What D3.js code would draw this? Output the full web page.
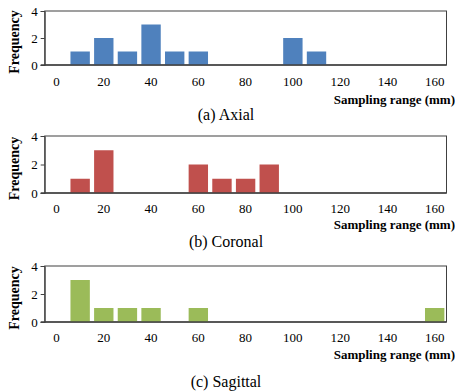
<!DOCTYPE html>
<html>
<head>
<meta charset="utf-8">
<script src="https://cdn.jsdelivr.net/npm/d3@7"></script>
<style>
  body { margin: 0; background: #fff; }
  svg text { font-family: "Liberation Serif", "Times New Roman", serif; fill: #000; }
</style>
</head>
<body>
<script>
// categories (sampling range, mm)
var categories = [0, 10, 20, 30, 40, 50, 60, 70, 80, 90, 100, 110, 120, 130, 140, 150, 160];
var yTicks = [0, 2, 4];
var axialFreq    = [0, 1, 2, 1, 3, 1, 1, 0, 0, 0, 2, 1, 0, 0, 0, 0, 0];
var coronalFreq  = [0, 1, 3, 0, 0, 0, 2, 1, 1, 2, 0, 0, 0, 0, 0, 0, 0];
var sagittalFreq = [0, 3, 1, 1, 1, 0, 1, 0, 0, 0, 0, 0, 0, 0, 0, 0, 1];
var captions = ["(a) Axial", "(b) Coronal", "(c) Sagittal"];
var xTitle = "Sampling range (mm)";
var yTitle = "Frequency";

var w = 455, h = 392;
var left = 44.7, right = 446.5;
var serif = "Liberation Serif, Times New Roman, serif";

// layout of each panel
var panels = [
  {data: axialFreq,    color: "#4F81BD", top: 11,  bottom: 65,  labelY: 86,  titleY: 104, capY: 120},
  {data: coronalFreq,  color: "#C0504D", top: 136, bottom: 193, labelY: 213, titleY: 229, capY: 247},
  {data: sagittalFreq, color: "#9BBB59", top: 266, bottom: 322, labelY: 342, titleY: 359, capY: 387}
];

var svg = d3.select("body").append("svg")
  .attr("width", w)
  .attr("height", h)
  .attr("font-family", serif);

var xScale = d3.scaleBand()
  .domain(categories)
  .range([left, right])
  .paddingInner(0.18)
  .paddingOuter(0.09);

panels.forEach(function(p, i) {
  var yScale = d3.scaleLinear()
    .domain([0, 4])
    .range([p.bottom, p.top]);

  var g = svg.append("g");

  // plot frame
  g.append("rect")
    .attr("x", left)
    .attr("y", p.top)
    .attr("width", right - left)
    .attr("height", p.bottom - p.top)
    .attr("fill", "none")
    .attr("stroke", "#404040")
    .attr("stroke-width", 1);

  // bars
  g.selectAll("rect.bar")
    .data(categories.map(function(c, j) { return {c: c, v: p.data[j]}; }).filter(function(d) { return d.v > 0; }))
    .enter()
    .append("rect")
    .attr("class", "bar")
    .attr("x", function(d) { return xScale(d.c); })
    .attr("y", function(d) { return yScale(d.v); })
    .attr("width", xScale.bandwidth())
    .attr("height", function(d) { return yScale(0) - yScale(d.v); })
    .attr("fill", p.color);

  // y axis
  var yAxis = d3.axisLeft(yScale)
    .tickValues(yTicks)
    .tickFormat(d3.format("d"))
    .tickSize(4)
    .tickPadding(3);
  var ya = g.append("g")
    .attr("transform", "translate(" + left + ",0)")
    .call(yAxis)
    .attr("font-family", serif)
    .attr("font-size", 13);
  ya.select(".domain").attr("stroke", "#404040");
  ya.selectAll(".tick line").attr("stroke", "#404040");
  ya.selectAll(".tick text").attr("fill", "#000");

  // x axis line
  g.append("line")
    .attr("x1", left - 4)
    .attr("x2", right)
    .attr("y1", yScale(0))
    .attr("y2", yScale(0))
    .attr("stroke", "#404040")
    .attr("stroke-width", 1.6);

  // x tick labels (every other category)
  g.selectAll("text.xl")
    .data(categories.filter(function(c) { return c % 20 === 0; }))
    .enter()
    .append("text")
    .attr("class", "xl")
    .attr("x", function(c) { return xScale(c) + xScale.bandwidth() / 2; })
    .attr("y", p.labelY)
    .attr("text-anchor", "middle")
    .attr("font-family", serif)
    .attr("font-size", "13px")
    .text(function(c) { return c; });

  // axis titles
  g.append("text")
    .attr("x", 455)
    .attr("y", p.titleY)
    .attr("text-anchor", "end")
    .attr("font-family", serif)
    .attr("font-size", "13px")
    .attr("font-weight", "bold")
    .text(xTitle);

  g.append("text")
    .attr("transform", "translate(19," + ((p.top + p.bottom) / 2 + 4) + ") rotate(-90)")
    .attr("text-anchor", "middle")
    .attr("font-family", serif)
    .attr("font-size", "14px")
    .attr("font-weight", "bold")
    .text(yTitle);

  // caption
  g.append("text")
    .attr("x", 226)
    .attr("y", p.capY)
    .attr("text-anchor", "middle")
    .attr("font-family", serif)
    .attr("font-size", "16px")
    .text(captions[i]);
});
</script>
</body>
</html>
